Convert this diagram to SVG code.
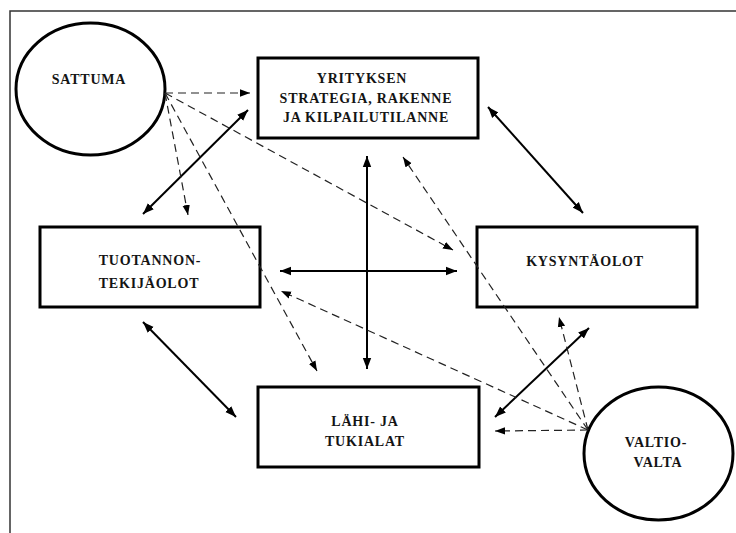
<svg xmlns="http://www.w3.org/2000/svg" width="736" height="533" viewBox="0 0 736 533">
<style>
.frame{fill:none;stroke:#333;stroke-width:1.5}
.node{fill:#fff;stroke:#000;stroke-width:3}
.lbl{font-family:"Liberation Serif","Times New Roman",serif;font-weight:bold;font-size:14px;letter-spacing:0.8px;fill:#141414;text-anchor:middle}
.solid{stroke:#000;stroke-width:2;fill:none;marker-start:url(#ah);marker-end:url(#ah)}
.dash{stroke:#222;stroke-width:1.2;fill:none;stroke-dasharray:8 5;marker-end:url(#dh)}
</style>
<defs>
<marker id="ah" markerUnits="userSpaceOnUse" markerWidth="12" markerHeight="10" refX="11" refY="5" orient="auto-start-reverse"><path d="M0,0.8 L11,5 L0,9.2 z" fill="#000"/></marker>
<marker id="dh" markerUnits="userSpaceOnUse" markerWidth="11" markerHeight="9" refX="10" refY="4.5" orient="auto"><path d="M0,0.8 L10,4.5 L0,8.2 z" fill="#000"/></marker>
</defs>
<rect width="736" height="533" fill="#fff"/>
<path class="frame" d="M10,533 L10,11 L736,11"/>
<g id="sattuma"><ellipse class="node" cx="90.5" cy="89" rx="74.5" ry="66"/><text class="lbl" x="89" y="84">SATTUMA</text></g>
<g id="yrityksen"><rect class="node" x="258" y="58" width="220" height="80"/><text class="lbl" x="362" y="83">YRITYKSEN</text><text class="lbl" x="366" y="103">STRATEGIA, RAKENNE</text><text class="lbl" x="366" y="122">JA KILPAILUTILANNE</text></g>
<g id="tuotannon"><rect class="node" x="40" y="227" width="220" height="80"/><text class="lbl" x="150" y="265">TUOTANNON-</text><text class="lbl" x="149" y="288">TEKIJÄOLOT</text></g>
<g id="kysynta"><rect class="node" x="477" y="227" width="220" height="80"/><text class="lbl" x="585" y="266">KYSYNTÄOLOT</text></g>
<g id="lahi"><rect class="node" x="258" y="387" width="221" height="80"/><text class="lbl" x="365" y="426">LÄHI- JA</text><text class="lbl" x="365" y="446">TUKIALAT</text></g>
<g id="valtio"><ellipse class="node" cx="658.5" cy="453.5" rx="74.5" ry="66.5"/><text class="lbl" x="656" y="447">VALTIO-</text><text class="lbl" x="658" y="467">VALTA</text></g>
<g id="connectors">
<line class="solid" x1="143" y1="214" x2="248" y2="110"/>
<line class="solid" x1="488" y1="107" x2="583" y2="213"/>
<line class="solid" x1="367" y1="156" x2="367" y2="369"/>
<line class="solid" x1="280" y1="271" x2="457" y2="271"/>
<line class="solid" x1="143" y1="322" x2="236" y2="417"/>
<line class="solid" x1="495" y1="417" x2="589" y2="328"/>
<line class="dash" x1="165" y1="93" x2="250" y2="93"/>
<line class="dash" x1="165" y1="93" x2="188" y2="215"/>
<line class="dash" x1="165" y1="93" x2="317" y2="371"/>
<line class="dash" x1="165" y1="93" x2="453" y2="250"/>
<line class="dash" x1="588" y1="430" x2="495" y2="431"/>
<line class="dash" x1="588" y1="430" x2="281" y2="291"/>
<line class="dash" x1="588" y1="430" x2="403" y2="157"/>
<line class="dash" x1="588" y1="430" x2="559" y2="317"/>
</g>
</svg>
